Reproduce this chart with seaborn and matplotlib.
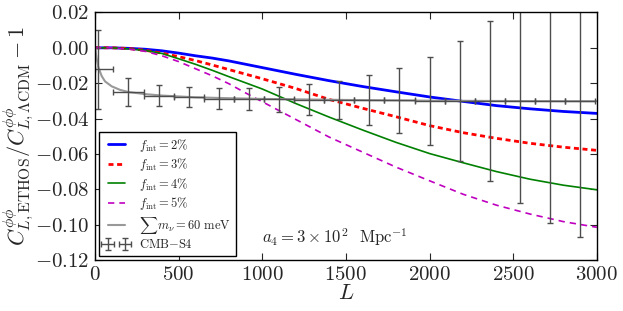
import numpy as np
import pandas as pd
import matplotlib
matplotlib.use('Agg')
import matplotlib.pyplot as plt
import seaborn as sns

# multipoles for the ETHOS model curves
L_model = [0, 100, 200, 300, 400, 500, 600, 700, 800, 900, 1000,
           1200, 1400, 1600, 1800, 2000, 2200, 2400, 2600, 2800, 3000]
f2 = [0, 0, -0.0003, -0.0008, -0.0017, -0.0030, -0.0045, -0.0058, -0.0074, -0.0093, -0.0112,
      -0.0150, -0.0186, -0.0219, -0.0249, -0.0278, -0.0303, -0.0327, -0.0345, -0.0360, -0.0371]
f3 = [0, 0, -0.0004, -0.0014, -0.0030, -0.0050, -0.0072, -0.0097, -0.0123, -0.0149, -0.0175,
      -0.0230, -0.0292, -0.0342, -0.0390, -0.0440, -0.0480, -0.0512, -0.0540, -0.0562, -0.0580]
f4 = [0, 0, -0.0006, -0.0015, -0.0032, -0.0062, -0.0093, -0.0127, -0.0163, -0.0198, -0.0233,
      -0.0315, -0.0392, -0.0465, -0.0535, -0.0598, -0.0650, -0.0700, -0.0743, -0.0777, -0.0803]
f5 = [0, 0, -0.0007, -0.0020, -0.0045, -0.0078, -0.0118, -0.0158, -0.0203, -0.0255, -0.0305,
      -0.0405, -0.0505, -0.0590, -0.0675, -0.0752, -0.0828, -0.0890, -0.0940, -0.0983, -0.1015]

# massive neutrino curve
L_nu = [2, 5, 10, 20, 40, 60, 100, 150, 200, 300, 400, 600, 800, 1000, 1500, 2000, 2500, 3000]
nu = [0, -0.003, -0.006, -0.011, -0.016, -0.019, -0.0218, -0.0238, -0.0250, -0.0262, -0.0270,
      -0.0280, -0.0285, -0.0289, -0.0295, -0.0299, -0.0301, -0.0302]

# CMB-S4 binned forecast
L_cmb = [20, 200, 380, 560, 740, 920, 1100, 1280, 1460, 1640, 1820,
         2000, 2180, 2360, 2540, 2720, 2900]
y_cmb = [-0.0122, -0.0250, -0.0270, -0.0280, -0.0287, -0.0290, -0.0292, -0.0293, -0.0296,
         -0.0296, -0.0298, -0.0299, -0.0300, -0.0300, -0.0300, -0.0300, -0.0300]
err_cmb = [0.0225, 0.008, 0.006, 0.0056, 0.0057, 0.0062, 0.0073, 0.0087, 0.0108,
           0.014, 0.0186, 0.0248, 0.034, 0.0454, 0.058, 0.069, 0.077]
xlo_cmb = [18] + [90] * 16
xhi_cmb = [90] * 17

labels = [r'$f_{\rm int}=2\%$', r'$f_{\rm int}=3\%$', r'$f_{\rm int}=4\%$', r'$f_{\rm int}=5\%$']

sns.set_style('ticks')
plt.rcParams['font.family'] = 'serif'
plt.rcParams['font.serif'] = ['cmr10']
plt.rcParams['mathtext.fontset'] = 'cm'
plt.rcParams['axes.formatter.use_mathtext'] = True

df = pd.DataFrame({'L': L_model, '2': f2, '3': f3, '4': f4, '5': f5})

fig = plt.figure(figsize=(6.23, 3.11), dpi=100)
ax = fig.add_axes([0.1525, 0.164, 0.8055, 0.796])

styles = [('2', 'b', None, 2.0), ('3', 'r', (1.8, 1.3), 2.0),
          ('4', 'g', None, 1.2), ('5', 'm', (3.8, 3.0), 1.2)]
for (col, c, dash, lw), lab in zip(styles, labels):
    line_kws = dict(color=c, lw=lw, label=lab, ax=ax)
    if dash is not None:
        line_kws['dashes'] = dash
    sns.lineplot(data=df, x='L', y=col, **line_kws)

sns.lineplot(x=L_nu, y=nu, color='0.6', lw=1.5, label=r'$\sum m_\nu=$60 meV', ax=ax)

ax.errorbar(L_cmb, y_cmb, yerr=err_cmb, xerr=[xlo_cmb, xhi_cmb], fmt='none',
            ecolor='0.3', elinewidth=1, capsize=2, capthick=1, label=r'CMB$-$S4')

ax.set_xlim(0, 3000)
ax.set_ylim(-0.12, 0.02)
ax.set_xticks([0, 500, 1000, 1500, 2000, 2500, 3000])
ax.set_yticks([-0.12, -0.10, -0.08, -0.06, -0.04, -0.02, 0.00, 0.02])
ax.tick_params(direction='in', top=True, right=True, length=5, width=0.8, labelsize=15, pad=4)
for s in ax.spines.values():
    s.set_color('black')
    s.set_linewidth(1)

ax.set_xlabel(r'$L$', fontsize=16, labelpad=0)
ax.set_ylabel(r'$C^{\phi\phi}_{L,{\rm ETHOS}}/C^{\phi\phi}_{L,\Lambda{\rm CDM}}-1$', fontsize=16, labelpad=0)

ax.text(1000, -0.107, r'$a_4=3\times10^2$  Mpc$^{-1}$', fontsize=12, va='center')

leg = ax.legend(loc='lower left', fontsize=9, numpoints=2, fancybox=False, framealpha=1,
                edgecolor='black', handlelength=2.0, borderaxespad=0.3, labelspacing=0.2)
leg.get_frame().set_linewidth(1)

fig.savefig('out.png', dpi=100)
